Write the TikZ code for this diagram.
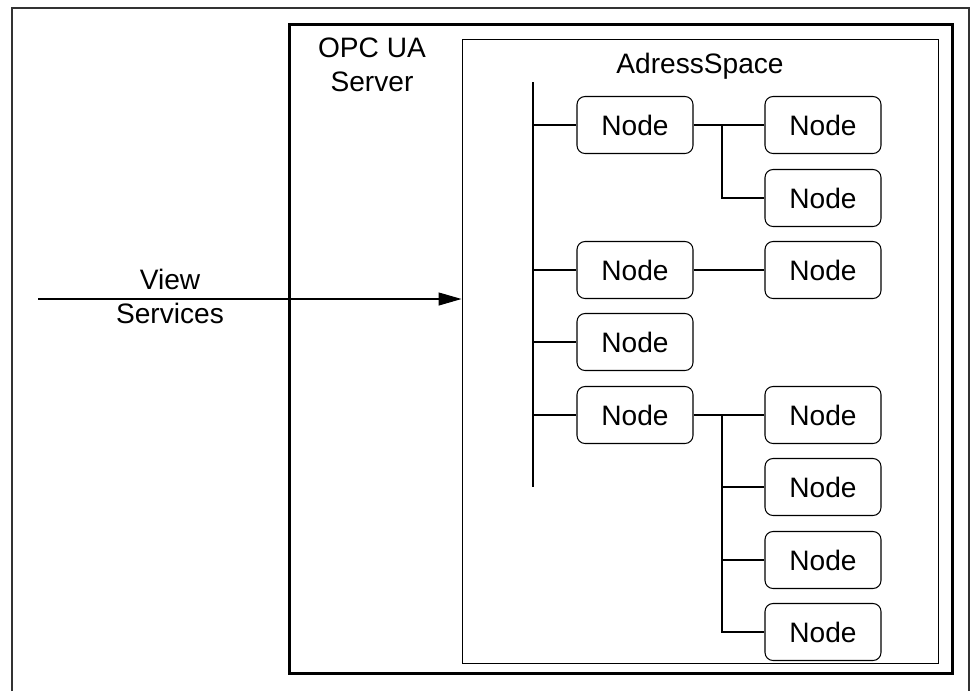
\documentclass[tikz,border=0pt]{standalone}
\usepackage{fontspec}
\setmainfont{Liberation Sans}
\usetikzlibrary{positioning,arrows.meta}

\tikzset{
	item/.style={draw, line width=0.6pt, rounded corners=0.16cm, inner sep=0pt,
		minimum width=2.32cm, minimum height=1.14cm},
	link/.style={line width=0.6pt},
}

\begin{document}
\begin{tikzpicture}[x=0.02cm, y=-0.02cm, font=\fontsize{16}{19.3}\selectfont]
	\useasboundingbox (0,0) rectangle (970,691);
	\draw[line width=0.9pt, draw=black!80] (12,691) -- (12,8) -- (969,8) -- (969,691);
	\node[draw, line width=1.7pt, minimum width=13.28cm, minimum height=13cm] (server) at (621,349) {};
	\node[draw, line width=0.6pt, minimum width=9.54cm, minimum height=12.5cm] (space) at (700.5,351.5) {};
	\node[align=center] (serverlabel) at (372,65) {OPC UA\\Server};
	\node[anchor=base] (spacelabel) at (700,73) {AdressSpace};
	\node[align=center] (view) at (170,296) {View\\Services};
	\coordinate (src) at (38,299);
	\draw[link, -{Triangle[length=0.46cm, width=0.26cm]}] (src) -- (src -| space.west);
	% first level
	\node[item] (a1) at (635,125) {Node};
	\node[item] (a3) at (635,270) {Node};
	\node[item] (a4) at (635,342) {Node};
	\node[item] (a5) at (635,415) {Node};
	% second level
	\node[item] (b1) at (823,125) {Node};
	\node[item] (b2) at (823,198) {Node};
	\node[item] (b3) at (823,270) {Node};
	\node[item] (b5) at (823,415) {Node};
	\node[item] (b6) at (823,487) {Node};
	\node[item] (b7) at (823,560) {Node};
	\node[item] (b8) at (823,632) {Node};
	% trunk
	\coordinate (top) at (533,82);
	\coordinate (bottom) at (533,487);
	\draw[link] (top) -- (bottom);
	\draw[link] (a1.west -| top) -- (a1.west);
	\draw[link] (a3.west -| top) -- (a3.west);
	\draw[link] (a4.west -| top) -- (a4.west);
	\draw[link] (a5.west -| top) -- (a5.west);
	% branches
	\coordinate (j1) at (722,125);
	\coordinate (j5) at (722,415);
	\draw[link] (a1.east) -- (b1.west);
	\draw[link] (j1) |- (b2.west);
	\draw[link] (a3.east) -- (b3.west);
	\draw[link] (a5.east) -- (b5.west);
	\draw[link] (j5) |- (b8.west);
	\draw[link] (b6.west -| j5) -- (b6.west);
	\draw[link] (b7.west -| j5) -- (b7.west);
\end{tikzpicture}
\end{document}
